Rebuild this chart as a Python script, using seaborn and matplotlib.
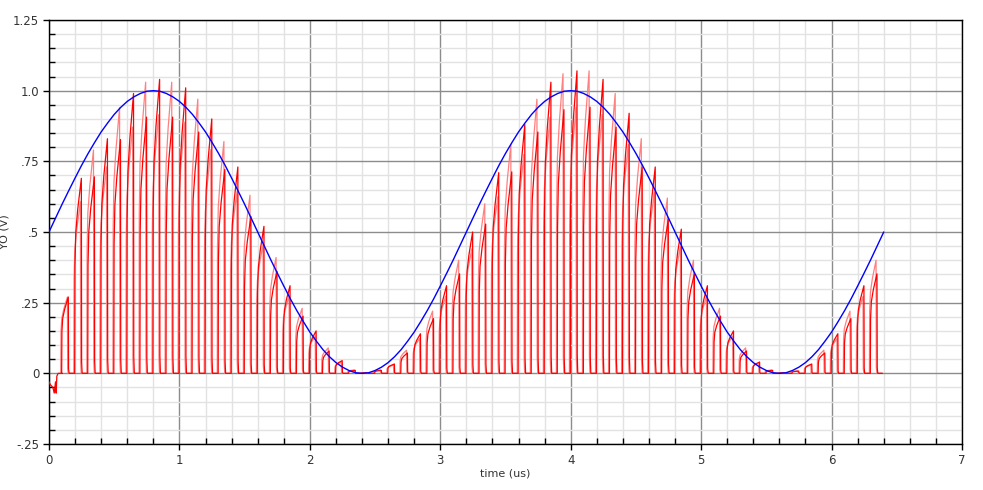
import numpy as np
import pandas as pd
import matplotlib
matplotlib.use("Agg")
import matplotlib.pyplot as plt
import seaborn as sns
from matplotlib.ticker import MultipleLocator, FixedLocator

# ---- data ----
# blue reference waveform (V), read every 0.05 us from 0 to 6.4 us
blue_step_us = 0.05
blue_v = [0.500, 0.549, 0.598, 0.645, 0.691, 0.736, 0.778, 0.817, 0.854, 0.886, 0.916, 0.941, 0.962,
          0.978, 0.990, 0.998, 1.000, 0.998, 0.990, 0.978, 0.962, 0.941, 0.916, 0.886, 0.854, 0.817,
          0.778, 0.736, 0.691, 0.645, 0.598, 0.549, 0.500, 0.451, 0.402, 0.355, 0.309, 0.264, 0.222,
          0.183, 0.146, 0.114, 0.084, 0.059, 0.038, 0.022, 0.010, 0.002, 0.000, 0.002, 0.010, 0.022,
          0.038, 0.059, 0.084, 0.114, 0.146, 0.183, 0.222, 0.264, 0.309, 0.355, 0.402, 0.451, 0.500,
          0.549, 0.598, 0.645, 0.691, 0.736, 0.778, 0.817, 0.854, 0.886, 0.916, 0.941, 0.962, 0.978,
          0.990, 0.998, 1.000, 0.998, 0.990, 0.978, 0.962, 0.941, 0.916, 0.886, 0.854, 0.817, 0.778,
          0.736, 0.691, 0.645, 0.598, 0.549, 0.500, 0.451, 0.402, 0.355, 0.309, 0.264, 0.222, 0.183,
          0.146, 0.114, 0.084, 0.059, 0.038, 0.022, 0.010, 0.002, 0.000, 0.002, 0.010, 0.022, 0.038,
          0.059, 0.084, 0.114, 0.146, 0.183, 0.222, 0.264, 0.309, 0.355, 0.402, 0.451, 0.500]

# red sampled pulses: peak time (us) and peak height (V)
pulse_t = [0.15, 0.25, 0.35, 0.45, 0.55, 0.65, 0.75, 0.85, 0.95, 1.05, 1.15, 1.25, 1.35, 1.45, 1.55,
           1.65, 1.75, 1.85, 1.95, 2.05, 2.15, 2.25, 2.35, 2.45, 2.55, 2.65, 2.75, 2.85, 2.95, 3.05,
           3.15, 3.25, 3.35, 3.45, 3.55, 3.65, 3.75, 3.85, 3.95, 4.05, 4.15, 4.25, 4.35, 4.45, 4.55,
           4.65, 4.75, 4.85, 4.95, 5.05, 5.15, 5.25, 5.35, 5.45, 5.55, 5.65, 5.75, 5.85, 5.95, 6.05,
           6.15, 6.25, 6.35]
pulse_h = [0.27, 0.69, 0.79, 0.83, 0.94, 0.99, 1.03, 1.04, 1.03, 1.01, 0.97, 0.90, 0.82, 0.73, 0.63,
           0.52, 0.41, 0.31, 0.23, 0.15, 0.09, 0.045, 0.012, 0.002, 0.012, 0.033, 0.082, 0.14, 0.22, 0.31,
           0.40, 0.50, 0.60, 0.71, 0.81, 0.88, 0.97, 1.03, 1.06, 1.07, 1.07, 1.04, 0.99, 0.92, 0.83,
           0.73, 0.62, 0.51, 0.40, 0.31, 0.23, 0.15, 0.09, 0.04, 0.012, 0.002, 0.009, 0.033, 0.082, 0.14,
           0.22, 0.31, 0.40]
# start-up glitch of the red trace
glitch_t = [0.0, 0.01, 0.03, 0.04, 0.05, 0.055, 0.06, 0.07, 0.09, 0.1]
glitch_v = [-0.03, -0.04, -0.05, -0.07, -0.03, -0.07, -0.01, 0.0, 0.0, 0.0]

x_ticks = [0, 1, 2, 3, 4, 5, 6, 7]
y_ticks = [-0.25, 0.0, 0.25, 0.5, 0.75, 1.0, 1.25]
y_tick_labels = ["-.25", "0", ".25", ".5", ".75", "1.0", "1.25"]

# ---- pulse shape: steep rise, tapering top, spike, sharp fall ----
shape_dt = [-0.053, -0.051, -0.045, -0.030, -0.014, -0.002, 0.0, 0.004]
shape_fr = [0.0, 0.55, 0.72, 0.84, 0.93, 1.0, 0.06, 0.0]

def build_trace(shift, scale_even, scale_odd, include_glitch):
    xs, ys = [], []
    if include_glitch:
        xs += glitch_t
        ys += glitch_v
    for i, (c, h) in enumerate(zip(pulse_t, pulse_h)):
        s = scale_even if i % 2 == 0 else scale_odd
        if i == 0:
            s = 1.0
        for dt, fr in zip(shape_dt, shape_fr):
            xs.append(c + dt + shift)
            ys.append(h * fr * s)
    xs.append(pulse_t[-1] + 0.04)
    ys.append(0.0)
    return pd.DataFrame({"t": xs, "v": ys})

pink = build_trace(-0.007, 1.0, 0.88, False)
red = build_trace(0.0, 0.88, 1.0, True)
blue = pd.DataFrame({"t": [0.0] + [i * blue_step_us for i in range(len(blue_v))],
                     "v": [0.0] + blue_v})

sns.set_theme(style="white")
plt.rcParams["font.family"] = ["DejaVu Sans"]

fig = plt.figure(figsize=(9.83, 4.90), dpi=100)
ax = fig.add_axes([49 / 983, 1 - 444 / 490, (962 - 49) / 983, (444 - 20) / 490])

sns.lineplot(data=pink, x="t", y="v", ax=ax, color="#ff8080", lw=0.9, sort=False,
             estimator=None, zorder=3)
sns.lineplot(data=red, x="t", y="v", ax=ax, color="#ff0000", lw=0.9, sort=False,
             estimator=None, zorder=4)
sns.lineplot(data=blue, x="t", y="v", ax=ax, color="#0000ff", lw=1.0, sort=False,
             estimator=None, zorder=5)

ax.set_xlim(0, 7)
ax.set_ylim(-0.25, 1.25)
ax.xaxis.set_major_locator(FixedLocator(x_ticks))
ax.set_xticklabels([str(v) for v in x_ticks])
ax.yaxis.set_major_locator(FixedLocator(y_ticks))
ax.set_yticklabels(y_tick_labels)
ax.xaxis.set_minor_locator(MultipleLocator(0.2))
ax.yaxis.set_minor_locator(MultipleLocator(0.05))

ax.grid(True, which="minor", color="#e2e2e2", lw=1.0, zorder=0)
ax.grid(True, which="major", color="#8c8c8c", lw=1.0, zorder=1)
ax.set_axisbelow(True)

ax.tick_params(axis="both", which="major", direction="out", length=4, width=1,
               color="black", labelsize=8.5, labelcolor="#333333", pad=3)
ax.tick_params(axis="both", which="minor", direction="in", length=4, width=1, color="black")
ax.tick_params(axis="x", which="both", bottom=True)
ax.tick_params(axis="y", which="both", left=True)

for sp in ax.spines.values():
    sp.set_color("black")
    sp.set_linewidth(1.0)
    sp.set_visible(True)

ax.set_xlabel("time (us)", fontsize=8, color="#333333")
ax.set_ylabel("YO (V)", fontsize=8, color="#333333")
ax.xaxis.set_label_coords(0.5, -0.058)
ax.yaxis.set_label_coords(-39 / 913, 0.5)

fig.savefig("out.png", dpi=100, facecolor="white")
